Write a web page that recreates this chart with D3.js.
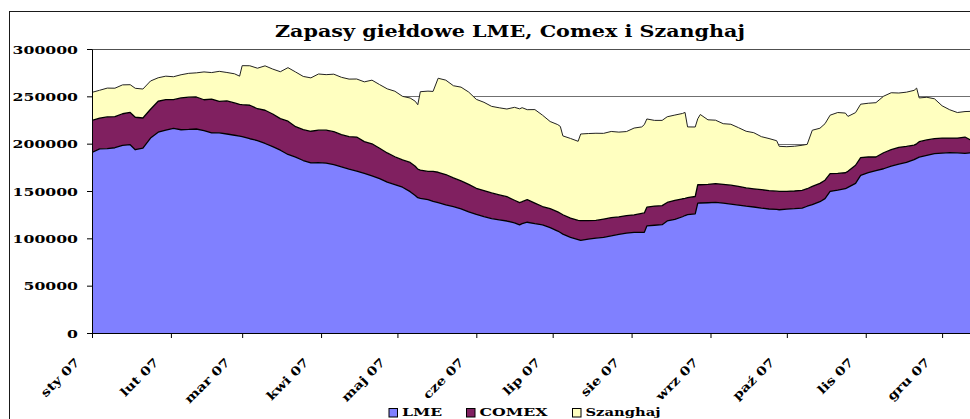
<!DOCTYPE html>
<html>
<head>
<meta charset="utf-8">
<script src="https://cdnjs.cloudflare.com/ajax/libs/d3/7.8.5/d3.min.js"></script>
<style>
  html, body { margin: 0; padding: 0; background: #fff; }
  svg { display: block; }
  text { font-family: "DejaVu Serif", serif; font-weight: bold; fill: #000; }
</style>
</head>
<body>
<div id="chart"></div>
<script>
// Stock levels (tonnes)
const dates = [
  "2007-01-01","2007-01-04","2007-01-07","2007-01-10","2007-01-13","2007-01-16","2007-01-18","2007-01-21","2007-01-24","2007-01-27",
  "2007-01-30","2007-02-02","2007-02-05","2007-02-08","2007-02-11","2007-02-14","2007-02-17","2007-02-20","2007-02-23","2007-02-26",
  "2007-02-28","2007-03-01","2007-03-04","2007-03-07","2007-03-10","2007-03-13","2007-03-16","2007-03-19","2007-03-22","2007-03-25",
  "2007-03-28","2007-03-31","2007-04-03","2007-04-06","2007-04-09","2007-04-12","2007-04-15","2007-04-18","2007-04-21","2007-04-24",
  "2007-04-27","2007-04-30","2007-05-03","2007-05-06","2007-05-08","2007-05-09","2007-05-10","2007-05-13","2007-05-15","2007-05-17",
  "2007-05-20","2007-05-23","2007-05-26","2007-05-29","2007-06-01","2007-06-04","2007-06-07","2007-06-10","2007-06-13","2007-06-16",
  "2007-06-18","2007-06-19","2007-06-21","2007-06-24","2007-06-27","2007-06-30","2007-07-03","2007-07-04","2007-07-05","2007-07-08",
  "2007-07-11","2007-07-12","2007-07-15","2007-07-18","2007-07-21","2007-07-24","2007-07-27","2007-07-30","2007-08-02","2007-08-05",
  "2007-08-06","2007-08-07","2007-08-10","2007-08-13","2007-08-15","2007-08-18","2007-08-21","2007-08-22","2007-08-23","2007-08-26",
  "2007-08-27","2007-08-28","2007-08-31","2007-09-03","2007-09-06","2007-09-09","2007-09-12","2007-09-15","2007-09-18","2007-09-21",
  "2007-09-24","2007-09-27","2007-09-28","2007-10-01","2007-10-04","2007-10-07","2007-10-09","2007-10-11","2007-10-14","2007-10-16",
  "2007-10-18","2007-10-21","2007-10-24","2007-10-25","2007-10-28","2007-10-30","2007-11-02","2007-11-05","2007-11-08","2007-11-11",
  "2007-11-14","2007-11-17","2007-11-20","2007-11-21","2007-11-22","2007-11-25","2007-11-28","2007-12-01","2007-12-04","2007-12-07",
  "2007-12-10","2007-12-12","2007-12-15"
];

const lme = [
  190800,194500,194800,195700,198300,198900,193600,195200,205900,212100,
  214200,216200,214700,215000,215500,213700,211300,211500,210200,208900,
  208000,207400,205200,203300,200200,196800,193100,188600,185800,182200,
  179700,180000,179400,177800,175600,173200,171100,168500,165900,163000,
  159400,156800,154000,149300,145200,142900,142200,140800,139100,137600,
  135300,133500,131100,128000,125300,123000,120900,119600,118300,116400,
  114200,115500,117000,115500,114300,111300,107700,106100,104400,101100,
  98700,97800,99100,100300,101100,102600,104200,105500,106200,106300,
  106300,113100,113800,114400,118400,120100,122800,124100,125000,125900,
  137200,137300,137600,138000,137100,136200,135100,134000,133100,131900,
  131000,130500,130200,130800,131300,132000,133900,135500,138700,141900,
  149600,150900,152400,153800,158100,166500,169300,171400,173500,176300,
  178500,180200,183100,184500,185800,187600,189400,190100,190600,190300,
  189800,190200,190000
];

const comex = [
  33800,32500,33400,32900,33300,34100,34300,31900,30400,32700,
  32400,30300,33600,34100,33800,32700,35800,33200,34900,34100,
  33600,33800,35400,33600,35100,34500,33300,35100,32100,32600,
  33400,34200,34900,34900,33900,34200,35900,33700,34000,32200,
  30800,29400,28800,30900,30900,30200,29900,29900,31600,32200,
  32100,30300,29500,29000,27600,27500,27000,26300,25700,23800,
  23600,23200,23800,21700,19300,20000,20300,20400,20500,20300,
  20200,20800,19600,18600,19200,19200,18500,18500,18600,20000,
  20500,19800,20300,20100,19500,20000,19000,18200,17900,18300,
  19400,19300,19500,19800,19900,20000,19800,19300,19200,19500,
  19500,19300,19300,18800,18700,18600,18500,19300,19400,19500,
  18700,17700,16900,17000,19100,18700,16600,14500,16900,17300,
  17600,16900,15300,15300,16300,16300,15900,15800,15300,15600,
  17200,14000,14000
];

const shanghai = [
  29600,29400,30500,30000,30500,29300,30600,30600,29900,24800,
  24700,24200,24500,25200,25500,29400,28000,31700,30100,30800,
  29700,41200,41700,42800,46900,47500,49600,56600,57800,56200,
  56400,59400,58600,60700,60600,60800,61300,63100,67200,67200,
  67700,69200,67200,68000,68700,68000,82800,84800,84500,99300,
  99700,97400,99100,97500,93900,93200,91500,92000,92600,98200,
  99000,99300,95100,98800,96500,92100,92100,91700,83300,84100,
  83600,91600,92000,92100,90600,91100,89500,88800,91700,91400,
  93300,93200,90500,90100,90500,90100,90100,90700,74800,73400,
  69700,74200,68100,67000,64100,64300,62000,59800,59300,56000,
  54900,53300,47700,47200,47300,47700,46900,59400,58200,59700,
  61800,64300,63000,58000,55600,56500,56800,57400,59700,60200,
  57400,57300,57900,58900,46200,45100,42100,34100,29900,27000,
  26900,29900,29900
];

const seriesNames = ["LME", "COMEX", "Szanghaj"];
const seriesColors = ["#8080ff", "#802060", "#ffffc0"];
const yTicks = [0, 50000, 100000, 150000, 200000, 250000, 300000];
const gridValues = [50000, 100000, 150000, 200000, 250000];
const monthLabels = ["sty 07", "lut 07", "mar 07", "kwi 07", "maj 07", "cze 07",
                     "lip 07", "sie 07", "wrz 07", "paź 07", "lis 07", "gru 07"];
const title = "Zapasy giełdowe LME, Comex i Szanghaj";

const width = 970, height = 419;
const plot = { left: 92, top: 49, right: 1021, bottom: 333 };

const svg = d3.select("#chart").append("svg")
    .attr("width", width)
    .attr("height", height);

svg.append("rect").attr("width", width).attr("height", height).attr("fill", "#fff");

// outer chart frame (runs off the picture on the right and bottom)
svg.append("rect")
    .attr("x", 9.5).attr("y", 11.5)
    .attr("width", 1100).attr("height", 500)
    .attr("fill", "none").attr("stroke", "#1a1a1a").attr("stroke-width", 1);

const parse = d3.timeParse("%Y-%m-%d");
const rows = dates.map((d, i) => ({
    date: parse(d), LME: lme[i], COMEX: comex[i], Szanghaj: shanghai[i]
}));

const x = d3.scaleTime()
    .domain([new Date(2007, 0, 1), new Date(2008, 0, 1)])
    .range([plot.left, plot.right]);

const y = d3.scaleLinear()
    .domain([0, 300000])
    .range([plot.bottom, plot.top]);

// gridlines
svg.append("g")
    .selectAll("line")
    .data(gridValues)
    .enter().append("line")
    .attr("x1", plot.left).attr("x2", plot.right)
    .attr("y1", d => Math.round(y(d)) + 0.5).attr("y2", d => Math.round(y(d)) + 0.5)
    .attr("stroke", "#707070").attr("stroke-width", 1);

// plot area top border
svg.append("line")
    .attr("x1", plot.left).attr("x2", plot.right)
    .attr("y1", plot.top + 0.5).attr("y2", plot.top + 0.5)
    .attr("stroke", "#505050");

svg.append("clipPath").attr("id", "plotClip")
    .append("rect")
    .attr("x", plot.left).attr("y", plot.top - 2)
    .attr("width", plot.right - plot.left).attr("height", plot.bottom - plot.top + 2);

const layers = d3.stack().keys(seriesNames)(rows);

const area = d3.area()
    .x(d => x(d.data.date))
    .y0(d => y(d[0]))
    .y1(d => y(d[1]));

const topLine = d3.line()
    .x(d => x(d.data.date))
    .y(d => y(d[1]));

const areas = svg.append("g").attr("clip-path", "url(#plotClip)");

areas.selectAll("path.area")
    .data(layers)
    .enter().append("path")
    .attr("class", "area")
    .attr("fill", (d, i) => seriesColors[i])
    .attr("d", area);

areas.selectAll("path.edge")
    .data(layers)
    .enter().append("path")
    .attr("class", "edge")
    .attr("fill", "none")
    .attr("stroke", (d, i) => i === 2 ? "#222" : "#000")
    .attr("stroke-width", (d, i) => i === 2 ? 1 : 1.3)
    .attr("stroke-linejoin", "round")
    .attr("d", topLine);

// y axis
const yAxis = svg.append("g")
    .attr("transform", `translate(${plot.left},0)`)
    .call(d3.axisLeft(y).tickValues(yTicks).tickFormat(d3.format("d"))
        .tickSize(5).tickPadding(9).tickSizeOuter(0));
yAxis.select(".domain").attr("stroke", "#000");
yAxis.selectAll(".tick line").attr("stroke", "#000");
yAxis.selectAll(".tick text")
    .attr("font-family", null)
    .attr("font-size", null)
    .style("font-size", "11.5px")
    .attr("dy", "0.36em")
    .attr("lengthAdjust", "spacingAndGlyphs")
    .attr("textLength", d => String(d).length * 10.9);

// x axis
const monthTicks = d3.timeMonth.range(new Date(2007, 0, 1), new Date(2008, 0, 1));
const xAxis = svg.append("g")
    .attr("transform", `translate(0,${plot.bottom})`)
    .call(d3.axisBottom(x).tickValues(monthTicks).tickSize(5).tickSizeOuter(0)
        .tickFormat((d, i) => monthLabels[i]));
xAxis.select(".domain").attr("stroke", "#000");
xAxis.selectAll(".tick line").attr("stroke", "#000");
xAxis.selectAll(".tick text")
    .attr("font-family", null)
    .attr("font-size", null)
    .style("font-size", "12px")
    .attr("text-anchor", "end")
    .attr("y", null).attr("dy", null)
    .attr("transform", "translate(-12,30) rotate(-45)")
    .each(function() {
        const w = this.getComputedTextLength();
        d3.select(this).attr("lengthAdjust", "spacingAndGlyphs").attr("textLength", w * 1.22);
    });

// title
svg.append("text")
    .attr("x", 510).attr("y", 36.5)
    .attr("text-anchor", "middle")
    .style("font-size", "16px")
    .attr("lengthAdjust", "spacingAndGlyphs")
    .attr("textLength", 470)
    .text(title);

// legend
const legendX = [388.5, 466, 572];
const legendW = [40, 68, 75];
const legend = svg.append("g");
seriesNames.forEach((name, i) => {
    legend.append("rect")
        .attr("x", legendX[i] + 0.5).attr("y", 408.5)
        .attr("width", 8.5).attr("height", 8.5)
        .attr("fill", seriesColors[i])
        .attr("stroke", "#000").attr("stroke-width", 1);
    legend.append("text")
        .attr("x", legendX[i] + 13.5).attr("y", 416)
        .style("font-size", "11px")
        .attr("lengthAdjust", "spacingAndGlyphs")
        .attr("textLength", legendW[i])
        .text(name);
});
</script>
</body>
</html>
